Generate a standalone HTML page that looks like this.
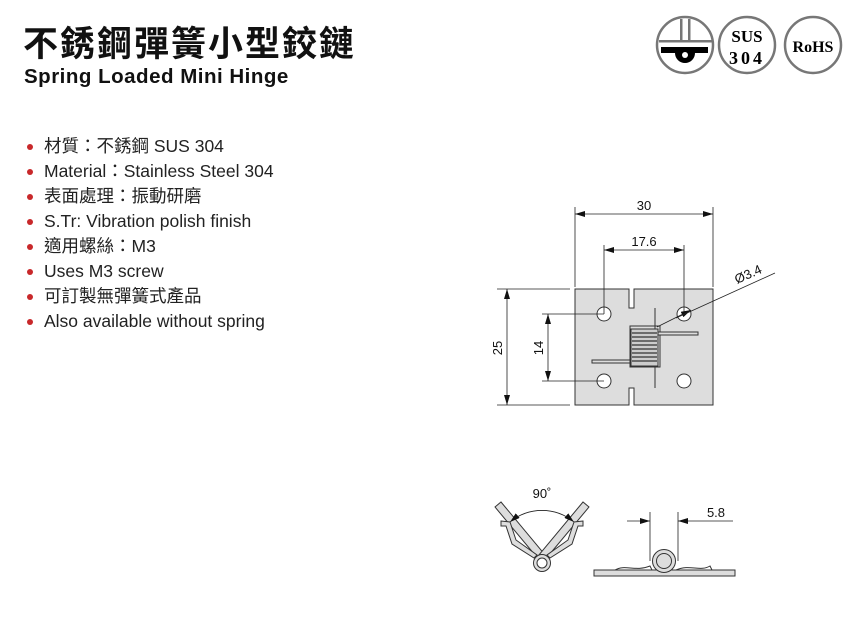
<!DOCTYPE html>
<html><head><meta charset="utf-8"><style>
body{margin:0;width:867px;height:625px;background:#fff;position:relative;overflow:hidden;font-family:"Liberation Sans","Noto Sans CJK TC",sans-serif;color:#111}
.t{position:absolute;left:23px;top:16px;font-size:35px;font-weight:bold;letter-spacing:2px;white-space:nowrap}
.s{position:absolute;left:24px;top:65px;font-size:20.5px;font-weight:bold;letter-spacing:0.5px;white-space:nowrap}
ul{position:absolute;left:26px;top:134px;margin:0;padding:0;list-style:none;font-size:17.5px;color:#222}
li{height:25px;line-height:25px;padding-left:18px;position:relative;white-space:nowrap}
li:before{content:"";position:absolute;left:1px;top:10px;width:6px;height:6px;border-radius:50%;background:#c8282a}
</style></head><body>
<div class="t">不銹鋼彈簧小型鉸鏈</div>
<div class="s">Spring Loaded Mini Hinge</div>
<ul>
<li>材質：不銹鋼 SUS 304</li>
<li>Material：Stainless Steel 304</li>
<li>表面處理：振動研磨</li>
<li>S.Tr: Vibration polish finish</li>
<li>適用螺絲：M3</li>
<li>Uses M3 screw</li>
<li>可訂製無彈簧式產品</li>
<li>Also available without spring</li>
</ul>
<svg width="867" height="625" style="position:absolute;left:0;top:0" font-family="Liberation Sans,sans-serif">
<defs><marker id="a" viewBox="0 0 10 6" refX="10" refY="3" markerWidth="10" markerHeight="6" orient="auto-start-reverse" markerUnits="userSpaceOnUse"><path d="M0,0L10,3L0,6z" fill="#111"/></marker></defs>
<g fill="none" stroke="#777" stroke-width="2.5">
<circle cx="685" cy="45" r="28"/><circle cx="747" cy="45" r="28"/><circle cx="813" cy="45" r="28"/></g>
<g fill="#777"><rect x="680" y="19" width="2.5" height="22"/><rect x="688" y="19" width="2.5" height="22"/><rect x="659" y="40" width="53" height="2.5"/></g>
<path d="M661,47H708V53H695A10,10 0 0 1 675,53H661Z" fill="#000"/><circle cx="685" cy="55" r="3" fill="#fff"/>
<text x="747" y="42" font-family="Liberation Serif,serif" font-weight="bold" font-size="17" text-anchor="middle">SUS</text>
<text x="747" y="64" font-family="Liberation Serif,serif" font-weight="bold" font-size="18" text-anchor="middle" letter-spacing="3">304</text>
<text x="813" y="52" font-family="Liberation Serif,serif" font-weight="bold" font-size="16" text-anchor="middle">RoHS</text>
<g stroke="#333" stroke-width="1" fill="#ddd">
<path d="M575,289H629V308H634V289H713V405H634V388H629V405H575Z"/>
<rect x="630" y="326" width="30" height="41" fill="#ddd"/>
<line x1="655" y1="308" x2="655" y2="388"/>
<rect x="658" y="332" width="40" height="3"/>
<rect x="592" y="360" width="38" height="3"/>
<rect x="631" y="329" width="27" height="37" fill="#ccc"/>
</g>
<g stroke="#333" stroke-width="1.2" fill="none">
<path d="M632,333H657M632,337H657M632,341H657M632,345H657M632,349H657M632,353H657M632,357H657M632,361H657"/>
</g>
<g stroke="#333" fill="#fff"><circle cx="604" cy="314" r="7"/><circle cx="604" cy="381" r="7"/><circle cx="684" cy="314" r="7"/><circle cx="684" cy="381" r="7"/></g>
<g stroke="#222" stroke-width="0.8" fill="none">
<line x1="575" y1="207" x2="575" y2="287"/><line x1="713" y1="207" x2="713" y2="287"/>
<line x1="575" y1="214" x2="713" y2="214" marker-start="url(#a)" marker-end="url(#a)"/>
<line x1="604" y1="245" x2="604" y2="314"/><line x1="684" y1="245" x2="684" y2="314"/>
<line x1="604" y1="250" x2="684" y2="250" marker-start="url(#a)" marker-end="url(#a)"/>
<line x1="497" y1="289" x2="570" y2="289"/><line x1="497" y1="405" x2="570" y2="405"/>
<line x1="507" y1="289" x2="507" y2="405" marker-start="url(#a)" marker-end="url(#a)"/>
<line x1="542" y1="314" x2="604" y2="314"/><line x1="542" y1="381" x2="604" y2="381"/>
<line x1="548" y1="314" x2="548" y2="381" marker-start="url(#a)" marker-end="url(#a)"/>
<line x1="657" y1="327" x2="691" y2="310" marker-end="url(#a)"/>
<line x1="676" y1="318" x2="775" y2="273"/>
</g>
<g font-size="13" fill="#111">
<text x="644" y="210" text-anchor="middle">30</text>
<text x="644" y="246" text-anchor="middle">17.6</text>
<text transform="translate(502,348) rotate(-90)" text-anchor="middle">25</text>
<text transform="translate(543,348) rotate(-90)" text-anchor="middle">14</text>
<text transform="translate(737,284) rotate(-24)">Ø3.4</text>
<text x="542" y="498" text-anchor="middle">90˚</text>
<text x="716" y="517" text-anchor="middle">5.8</text>
</g>
<g stroke="#333" stroke-width="1" fill="#ddd">
<path d="M495,507L501,502L546,556L540,561Z"/><path d="M589,507L583,502L538,556L544,561Z"/>
<path d="M501,521L510,522L516,540L537,555L534,558L512,544L506,526L501,526Z" />
<path d="M583,521L574,522L568,540L547,555L550,558L572,544L578,526L583,526Z"/>
<circle cx="542" cy="563" r="8.5"/><circle cx="542" cy="563" r="5" fill="#fff"/>
<rect x="594" y="570" width="141" height="6"/>
<path d="M615,570C625,564 635,572 650,566L652,570M676,570C690,564 700,572 710,566L712,570" fill="none"/>
<circle cx="664" cy="561" r="11.5"/><circle cx="664" cy="561" r="7.5" fill="#ddd"/>
</g>
<g stroke="#222" stroke-width="0.8" fill="none">
<path d="M510,522A50,50 0 0 1 574,522" marker-start="url(#a)" marker-end="url(#a)"/>
<line x1="650" y1="512" x2="650" y2="561"/><line x1="678" y1="512" x2="678" y2="561"/>
<line x1="627" y1="521" x2="650" y2="521" marker-end="url(#a)"/>
<line x1="733" y1="521" x2="678" y2="521" marker-end="url(#a)"/>
</g>
</svg>
</body></html>
